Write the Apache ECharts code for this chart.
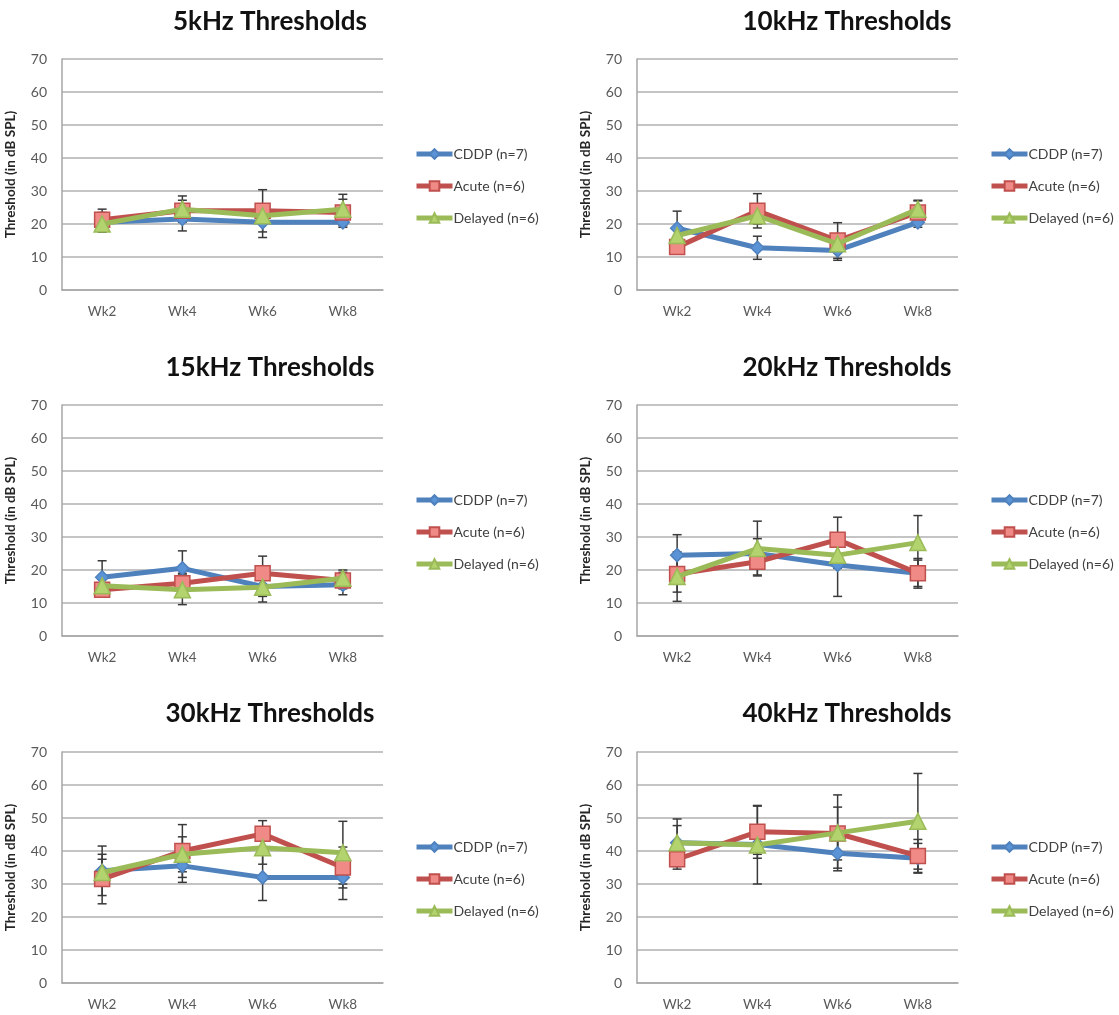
<!DOCTYPE html>
<html>
<head>
<meta charset="utf-8">
<script src="https://cdn.jsdelivr.net/npm/echarts@6/dist/echarts.min.js"></script>
<style>
html,body{margin:0;padding:0;background:#fff;}
#chart{width:1119px;height:1015px;}
</style>
</head>
<body>
<div id="chart"></div>
<script>
// ---- data ----
const weeks = ['Wk2', 'Wk4', 'Wk6', 'Wk8'];
const panelTitles = ['5kHz Thresholds', '10kHz Thresholds', '15kHz Thresholds', '20kHz Thresholds', '30kHz Thresholds', '40kHz Thresholds'];
const seriesNames = ['CDDP (n=7)', 'Acute (n=6)', 'Delayed (n=6)'];
const yAxisTitle = 'Threshold (in dB SPL)';

// 5 kHz
const cddp5 = [20.5, 21.5, 20.5, 20.5];
const acute5 = [21.3, 24, 24, 23.5];
const delayed5 = [20, 24.5, 22.5, 24.5];
const cddp5Err = [3, 3.6, 4.6, 1.5];
const acute5Err = [3.2, 3.2, 6.4, 4];
const delayed5Err = [1.5, 4, 2, 4.5];
// 10 kHz
const cddp10 = [18.7, 12.8, 12, 20.5];
const acute10 = [13, 24, 15, 23.5];
const delayed10 = [16.5, 22.5, 14, 24.5];
const cddp10Err = [5.2, 3.5, 3, 1.5];
const acute10Err = [2, 5.2, 5.4, 3.5];
const delayed10Err = [2, 2.5, 2, 2.7];
// 15 kHz
const cddp15 = [17.8, 20.5, 15, 15.5];
const acute15 = [14, 16, 19, 16.8];
const delayed15 = [15.2, 14, 14.8, 17.5];
const cddp15Err = [5, 5.3, 3, 3];
const acute15Err = [2, 3, 5.2, 2.5];
const delayed15Err = [2, 4.5, 4.5, 2.5];
// 20 kHz
const cddp20 = [24.5, 25, 21.5, 19];
const acute20 = [18.8, 22.5, 29.2, 19];
const delayed20 = [18, 26.5, 24.5, 28.3];
const cddp20Err = [6.2, 4.5, 9.5, 4.5];
const acute20Err = [5.5, 4, 6.8, 4];
const delayed20Err = [7.5, 8.3, 4, 8.2];
// 30 kHz
const cddp30 = [34, 35.5, 32, 32];
const acute30 = [31.5, 40, 45.2, 35];
const delayed30 = [33.5, 39, 41, 39.5];
const cddp30Err = [7.5, 5, 7, 6.7];
const acute30Err = [7.5, 8, 4, 6.2];
const delayed30Err = [4, 5.3, 5, 9.5];
// 40 kHz
const cddp40 = [42.5, 42, 39.3, 37.8];
const acute40 = [37.5, 45.8, 45.3, 38.5];
const delayed40 = [42.5, 41.8, 45.5, 49];
const cddp40Err = [5.2, 3, 4.5, 4.5];
const acute40Err = [3, 8, 8, 5];
const delayed40Err = [7.2, 11.8, 11.5, 14.5];

const panels = [
  [[cddp5, cddp5Err], [acute5, acute5Err], [delayed5, delayed5Err]],
  [[cddp10, cddp10Err], [acute10, acute10Err], [delayed10, delayed10Err]],
  [[cddp15, cddp15Err], [acute15, acute15Err], [delayed15, delayed15Err]],
  [[cddp20, cddp20Err], [acute20, acute20Err], [delayed20, delayed20Err]],
  [[cddp30, cddp30Err], [acute30, acute30Err], [delayed30, delayed30Err]],
  [[cddp40, cddp40Err], [acute40, acute40Err], [delayed40, delayed40Err]]
];

// ---- styles ----
const FONT = 'Lato';
const lineColors = ['#4F81BD', '#C0504D', '#9BBB59'];
const fillColors = ['#5B94D6', '#F08A86', '#B3D36E'];
const symbols = ['diamond', 'rect', 'triangle'];
const symbolSizes = [13, 15, 16];

const colLeft = [62, 637];
const rowTop = [59, 405, 752];
const gridW = 321, gridH = 231;
const titleCenterX = [270, 847];
const titleY = [22, 368, 714];
const legendLeft = [409, 984];
const legendTop = [142, 488, 835];

const grids = [], xAxes = [], yAxes = [], series = [], legends = [], graphics = [];

function errRender(params, api) {
  const x = api.value(0);
  const lo = api.coord([x, api.value(1)]);
  const hi = api.coord([x, api.value(2)]);
  const cw = 4.5;
  const st = { stroke: '#3a3a3a', lineWidth: 1.5 };
  return {
    type: 'group',
    children: [
      { type: 'line', shape: { x1: lo[0], y1: lo[1], x2: hi[0], y2: hi[1] }, style: st },
      { type: 'line', shape: { x1: lo[0] - cw, y1: lo[1], x2: lo[0] + cw, y2: lo[1] }, style: st },
      { type: 'line', shape: { x1: hi[0] - cw, y1: hi[1], x2: hi[0] + cw, y2: hi[1] }, style: st }
    ]
  };
}

panels.forEach((panel, p) => {
  const col = p % 2, row = Math.floor(p / 2);
  grids.push({ left: colLeft[col], top: rowTop[row], width: gridW, height: gridH });
  xAxes.push({
    type: 'category', gridIndex: p, data: weeks, boundaryGap: true,
    axisTick: { show: false },
    axisLine: { lineStyle: { color: '#a6a6a6', width: 1.5 } },
    axisLabel: { color: '#595959', fontSize: 13.5, fontFamily: FONT, margin: 15 }
  });
  yAxes.push({
    type: 'value', gridIndex: p, min: 0, max: 70, interval: 10,
    name: yAxisTitle, nameLocation: 'middle', nameGap: 44, nameRotate: 90,
    nameTextStyle: { color: '#262626', fontSize: 13.5, fontWeight: 'bold', fontFamily: FONT },
    axisLine: { show: true, lineStyle: { color: '#a6a6a6', width: 1.5 } },
    axisTick: { show: false },
    axisLabel: { color: '#595959', fontSize: 14, fontFamily: FONT, margin: 15 },
    splitLine: { lineStyle: { color: '#c4c4c4', width: 2 } }
  });
  panel.forEach((pair, s) => {
    const vals = pair[0], errs = pair[1];
    series.push({
      type: 'custom', xAxisIndex: p, yAxisIndex: p, z: 1,
      renderItem: errRender,
      encode: { x: 0, y: [1, 2] },
      data: vals.map((v, i) => [i, v - errs[i], v + errs[i]]),
      silent: true
    });
  });
  panel.forEach((pair, s) => {
    series.push({
      type: 'line', name: seriesNames[s], xAxisIndex: p, yAxisIndex: p, z: 3 + s,
      data: pair[0],
      symbol: symbols[s], symbolSize: symbolSizes[s], showAllSymbol: true,
      lineStyle: { color: lineColors[s], width: 5 },
      itemStyle: { color: fillColors[s], borderColor: lineColors[s], borderWidth: 1.5 },
      animation: false
    });
  });
  legends.push({
    orient: 'vertical', left: legendLeft[col], top: legendTop[row],
    data: seriesNames, itemWidth: 36, itemHeight: 12, itemGap: 18,
    lineStyle: { width: 5 },
    textStyle: { color: '#404040', fontSize: 14, fontFamily: FONT, padding: [0, 0, 0, -4] },
    selectedMode: false
  });
  graphics.push({
    type: 'text', x: titleCenterX[col], y: titleY[row],
    style: { text: panelTitles[p], fill: '#111', font: 'bold 26px ' + FONT, textAlign: 'center', textVerticalAlign: 'middle' }
  });
});

const chart = echarts.init(document.getElementById('chart'), null, { renderer: 'canvas' });
chart.setOption({
  backgroundColor: '#ffffff',
  animation: false,
  grid: grids,
  xAxis: xAxes,
  yAxis: yAxes,
  legend: legends,
  graphic: graphics,
  series: series
});
</script>
</body>
</html>
